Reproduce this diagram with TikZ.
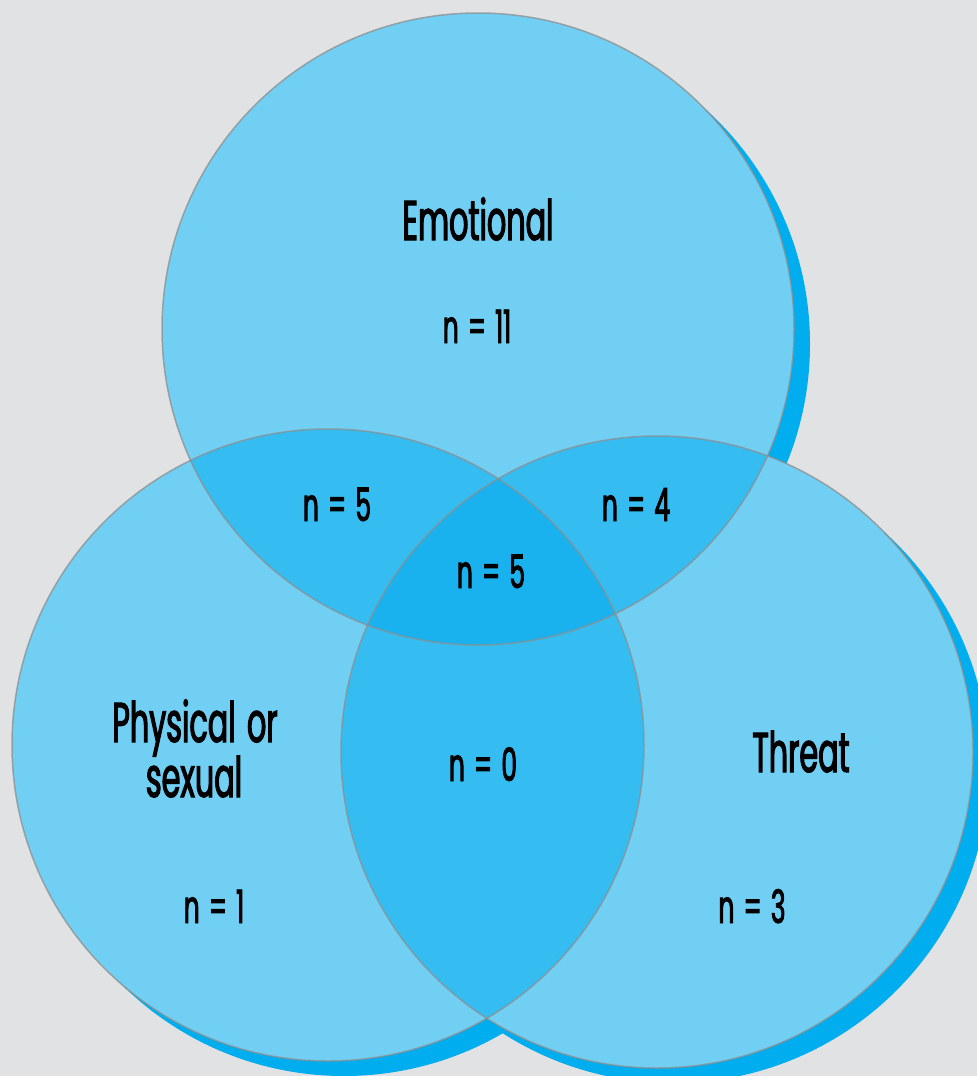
\documentclass[tikz,border=0pt]{standalone}
\usepackage{fontspec}
\setmainfont[FakeStretch=0.54, FakeBold=2, WordSpace=1.4]{Poppins}
\definecolor{backgray}{HTML}{E1E2E4}
\definecolor{shadowblue}{HTML}{00ADEE}
\definecolor{oneblue}{HTML}{72CFF4}
\definecolor{twoblue}{HTML}{35BDF2}
\definecolor{threeblue}{HTML}{1AB2EE}
\definecolor{rimgray}{HTML}{8E8E8E}

\begin{document}
\begin{tikzpicture}[x=1pt,y=-1pt]
   \tikzstyle{count}=[font=\fontsize{46}{48}\selectfont, inner sep=0pt, anchor=base]
   \tikzstyle{title}=[count, font=\fontsize{56}{55}\selectfont, align=center]
   \tikzstyle{rim}=[draw=rimgray, draw opacity=0.75, line width=1.5pt]
   \fill[backgray] (0,0) rectangle (977,1076);
   \useasboundingbox (0,0) rectangle (977,1076);
   \def\rad{316pt}
   \coordinate (emo) at (478,329);
   \coordinate (phys) at (328,745);
   \coordinate (threat) at (657,752);
   % drop shadows first, then the flat discs
   \foreach \c in {emo,phys,threat}
       \fill[shadowblue] ([shift={(16,15)}]\c) circle (\rad);
   \foreach \c in {emo,phys,threat}
       \fill[oneblue] (\c) circle (\rad);
   \foreach \a/\b in {emo/phys,emo/threat,phys/threat} {
       \begin{scope}
          \clip (\a) circle (\rad);
          \fill[twoblue] (\b) circle (\rad);
       \end{scope}
   }
   \begin{scope}
      \clip (emo) circle (\rad);
      \clip (phys) circle (\rad);
      \fill[threeblue] (threat) circle (\rad);
   \end{scope}
   \foreach \c in {emo,phys,threat}
       \draw[rim] (\c) circle (\rad);
   % labels
   \node[title] (emotitle) at (478,240) {Emotional};
   \node[title] (physrow1) at (195,742) {Physical or};
   \node[title] (physrow2) at (194,797) {sexual};
   \node[title] (threattitle) at (801,772) {Threat};
   \foreach \name/\x/\y/\n in {emon/477/343/11, ep/337/521/5, et/636/521/4,
                               ept/491/588/5, pt/483/781/0, physn/214/923/1, threatn/752/923/3} {
       \node[count] (\name) at (\x,\y) {n = \n};
   }
\end{tikzpicture}
\end{document}
